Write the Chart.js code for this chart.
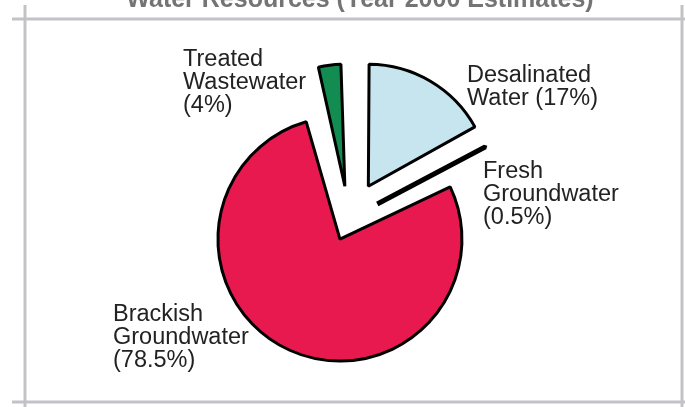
<!DOCTYPE html>
<html>
<head>
<meta charset="utf-8">
<title>Water Resources</title>
<script src="https://cdn.jsdelivr.net/npm/chart.js@4"></script>
<style>
  html, body { margin: 0; padding: 0; background: #fff; }
  canvas { display: block; }
</style>
</head>
<body>
<canvas id="chart" width="685" height="407"></canvas>
<script>
'use strict';

// данные (по часовой стрелке от 12 часов)
const categories = ['Desalinated Water', 'Fresh Groundwater', 'Brackish Groundwater', 'Treated Wastewater'];
const shares = [17, 0.5, 78.5, 4];
const labelLines = [
    ['Desalinated', 'Water (17%)'],
    ['Fresh', 'Groundwater', '(0.5%)'],
    ['Brackish', 'Groundwater', '(78.5%)'],
    ['Treated', 'Wastewater', '(4%)']
];
const titleText = 'Water Resources (Year 2000 Estimates)';

const sliceColors = ['#c6e5ef', '#111111', '#e8194f', '#138c52'];
const sliceBorders = [3, 5, 3, 3];
// Chart.js v4 делит offset на 4, поэтому значения в 4 раза больше сдвига в пикселях
const sliceOffsets = [38 * 4, 32 * 4, 22 * 4, 33 * 4];
const PIE_RADIUS = 122;

// где писать подписи (левый край, базовая линия первой строки)
const labelPos = [[467, 82], [483, 178], [113, 321], [183, 66]];

/**
 * v4 при offset ещё и увеличивает радиус сектора,
 * вернём всем секторам одинаковый радиус
 */
const sameRadius = {
    id: 'sameRadius',
    beforeDatasetsDraw(chart) {
        const arcs = chart.getDatasetMeta(0).data;
        arcs.forEach(arc => {
            const off = (arc.options.offset || 0) / 4;
            const fix = 1 - Math.sin(Math.min(Math.PI, arc.circumference || 0));
            arc.outerRadius = PIE_RADIUS - off * fix;
        });
    }
};

/**
 * Рамка, заголовок и подписи
 */
const decor = {
    id: 'decor',
    beforeDraw(chart) {
        const ctx = chart.ctx;
        ctx.save();
        ctx.strokeStyle = '#c3c3c7';
        ctx.lineWidth = 3;
        ctx.beginPath();
        ctx.moveTo(12, 19); ctx.lineTo(685, 19);
        ctx.moveTo(12, 402); ctx.lineTo(685, 402);
        ctx.moveTo(25, 5); ctx.lineTo(25, 407);
        ctx.moveTo(682, 5); ctx.lineTo(682, 407);
        ctx.stroke();

        ctx.fillStyle = '#747474';
        ctx.font = 'bold 25px "Liberation Sans", Arial, sans-serif';
        ctx.textAlign = 'center';
        ctx.textBaseline = 'alphabetic';
        ctx.fillText(titleText, 360, 7);
        ctx.restore();
    },
    afterDraw(chart) {
        const ctx = chart.ctx;
        ctx.save();
        ctx.fillStyle = '#222222';
        ctx.font = '23.5px "Liberation Sans", Arial, sans-serif';
        ctx.textAlign = 'left';
        ctx.textBaseline = 'alphabetic';
        for (let i = 0; i < labelLines.length; i++) {
            for (let j = 0; j < labelLines[i].length; j++) {
                ctx.fillText(labelLines[i][j], labelPos[i][0], labelPos[i][1] + j * 23);
            }
        }
        ctx.restore();
    }
};

const chart = new Chart(document.getElementById('chart'), {
    type: 'pie',
    data: {
        labels: categories,
        datasets: [{
            data: shares,
            backgroundColor: sliceColors,
            borderColor: '#000000',
            borderWidth: sliceBorders,
            offset: sliceOffsets
        }]
    },
    options: {
        responsive: false,
        animation: false,
        radius: PIE_RADIUS,
        layout: { padding: { left: 13, right: 0, top: 31, bottom: 0 } },
        plugins: {
            legend: { display: false },
            tooltip: { enabled: false },
            title: { display: false }
        }
    },
    plugins: [sameRadius, decor]
});
</script>
</body>
</html>
